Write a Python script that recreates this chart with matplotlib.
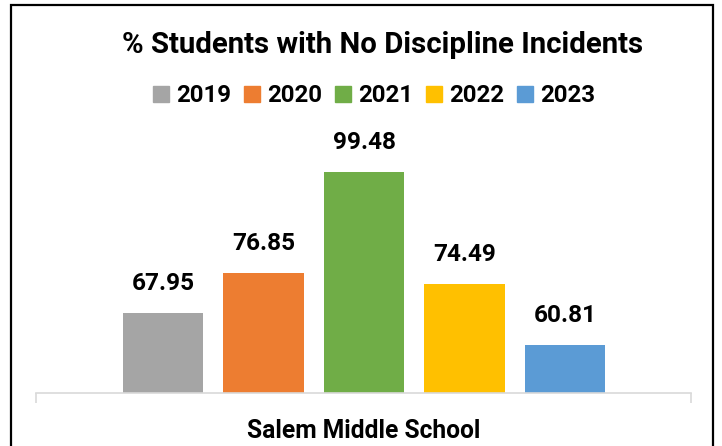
import matplotlib
matplotlib.use("Agg")
import matplotlib.pyplot as plt
from matplotlib.patches import Rectangle

years = ["2019", "2020", "2021", "2022", "2023"]
values = [67.95, 76.85, 99.48, 74.49, 60.81]
school = "Salem Middle School"
title = "% Students with No Discipline Incidents"
colors = ["#A5A5A5", "#ED7D31", "#70AD47", "#FFC000", "#5B9BD5"]

FONT = ['Roboto', 'DejaVu Sans']
plt.rcParams['font.family'] = FONT

W, H = 722, 446
fig = plt.figure(figsize=(W / 100, H / 100), dpi=100)
fig.patch.set_facecolor("white")
renderer = fig.canvas.get_renderer()


def fit_size(text, target_px, base=16):
    t = fig.text(0, 0, text, fontsize=base, fontweight="bold")
    w = t.get_window_extent(renderer).width
    t.remove()
    return base * target_px / w


ax = fig.add_axes([36 / W, (H - 393) / H, (691 - 36) / W, (393 - 125) / H])
ax.set_facecolor("none")

pos = list(range(len(years)))
ax.bar(pos, values, width=0.8, color=colors, zorder=2)
ax.set_ylim(50, 110)
xl, xr = -1.264, 4 + 1.254
ax.set_xlim(xl, xr)

for s in ["top", "left", "right"]:
    ax.spines[s].set_visible(False)
ax.spines["bottom"].set_color("#D9D9D9")
ax.spines["bottom"].set_linewidth(1.2)
ax.set_yticks([])
ax.set_xticks([xl, xr])
ax.set_xticklabels(["", ""])
ax.tick_params(axis="x", length=7, width=1.2, color="#D9D9D9", direction="out")

lab_size = fit_size("99.48", 63)
for p, v in zip(pos, values):
    ax.annotate(f"{v:.2f}", (p, v), xytext=(0, 13), textcoords="offset points",
                ha="center", va="bottom", fontsize=lab_size, fontweight="bold", color="black")

ax.text(0.5, -0.14, school, transform=ax.transAxes, ha="center", va="center",
        fontsize=fit_size(school, 235), fontweight="bold", color="black")

fig.text(383 / W, 1 - 45 / H, title, ha="center", va="center",
         fontsize=fit_size(title, 523), fontweight="bold", color="black")

leg_size = fit_size("2019", 55)
px_per_em = leg_size * 100 / 72
handles = [Rectangle((0, 0), 1, 1, color=c) for c in colors]
fig.legend(handles, years, loc="center", bbox_to_anchor=(374 / W, 1 - 96 / H),
           ncol=5, frameon=False, prop={"weight": "bold", "size": leg_size},
           handlelength=16 / px_per_em, handleheight=16 / px_per_em,
           handletextpad=7 / px_per_em, columnspacing=13 / px_per_em,
           borderpad=0, borderaxespad=0)

frame = Rectangle((11 / W, -0.05), (713 - 11) / W, (H - 5) / H + 0.05,
                  transform=fig.transFigure, fill=False, edgecolor="black",
                  linewidth=1.6, zorder=10)
fig.patches.append(frame)

fig.savefig("out.png", dpi=100)
